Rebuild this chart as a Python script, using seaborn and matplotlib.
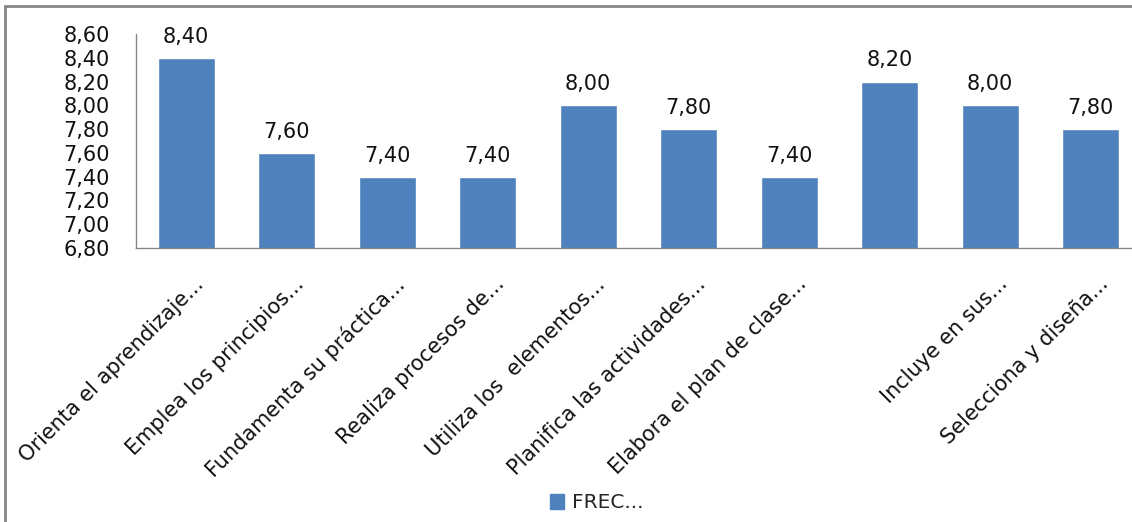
import matplotlib
matplotlib.use("Agg")
import matplotlib.pyplot as plt
import matplotlib.transforms as mtransforms
from matplotlib.lines import Line2D
from matplotlib.patches import Patch
import seaborn as sns
import pandas as pd

categories = [
    "Orienta el aprendizaje...",
    "Emplea los principios...",
    "Fundamenta su práctica...",
    "Realiza procesos de...",
    "Utiliza los  elementos...",
    "Planifica las actividades...",
    "Elabora el plan de clase...",
    " ",
    "Incluye en sus...",
    "Selecciona y diseña...",
]
values = [8.40, 7.60, 7.40, 7.40, 8.00, 7.80, 7.40, 8.20, 8.00, 7.80]
series_name = "FREC..."
yticks = [6.80, 7.00, 7.20, 7.40, 7.60, 7.80, 8.00, 8.20, 8.40, 8.60]

sns.set_theme(style="white")
plt.rcParams["font.family"] = ["DejaVu Sans"]

bar_color = "#4F81BD"
fs = 15

fig = plt.figure(figsize=(11.32, 5.22), dpi=100)
ax = fig.add_axes([136 / 1132, 1 - 248 / 522, (1141 - 136) / 1132, (248 - 34) / 522])

df = pd.DataFrame({"cat": categories, "val": values})
sns.barplot(data=df, x="cat", y="val", color=bar_color, saturation=1, width=0.57, ax=ax)

ax.set_ylim(6.8, 8.6)
ax.set_xlim(-0.5, len(categories) - 0.5)
ax.set_yticks(yticks)
ax.set_yticklabels([f"{t:.2f}".replace(".", ",") for t in yticks], fontsize=fs, color="#111111")
ax.set_xlabel("")
ax.set_ylabel("")

for c in ax.containers:
    ax.bar_label(c, labels=[f"{v:.2f}".replace(".", ",") for v in values],
                 padding=8, fontsize=fs, color="#111111")

for s in ["top", "right"]:
    ax.spines[s].set_visible(False)
for s in ["left", "bottom"]:
    ax.spines[s].set_color("#868686")
    ax.spines[s].set_linewidth(1)

ax.tick_params(axis="both", length=0)
ax.tick_params(axis="y", pad=19)
ax.tick_params(axis="x", pad=0)

ax.set_xticks(range(len(categories)))
ax.set_xticklabels(categories, fontsize=15, rotation=45, ha="right", va="center",
                   rotation_mode="anchor", color="#111111")
offset = mtransforms.ScaledTranslation(0.14, -0.33, fig.dpi_scale_trans)
for lbl in ax.get_xticklabels():
    lbl.set_transform(lbl.get_transform() + offset)

handles = [Patch(facecolor=bar_color, edgecolor=bar_color)]
fig.legend(handles, [series_name], loc="center", bbox_to_anchor=(597 / 1132, 1 - 503 / 522),
           frameon=False, fontsize=14.5, handlelength=0.7, handleheight=0.7,
           handletextpad=0.4)

# chart frame (left and top edges visible)
fig.add_artist(Line2D([5 / 1132, 5 / 1132], [0, 1 - 6 / 522], transform=fig.transFigure,
                      color="#868686", linewidth=2))
fig.add_artist(Line2D([5 / 1132, 1], [1 - 6 / 522, 1 - 6 / 522], transform=fig.transFigure,
                      color="#868686", linewidth=2))

fig.savefig("out.png", dpi=100)
